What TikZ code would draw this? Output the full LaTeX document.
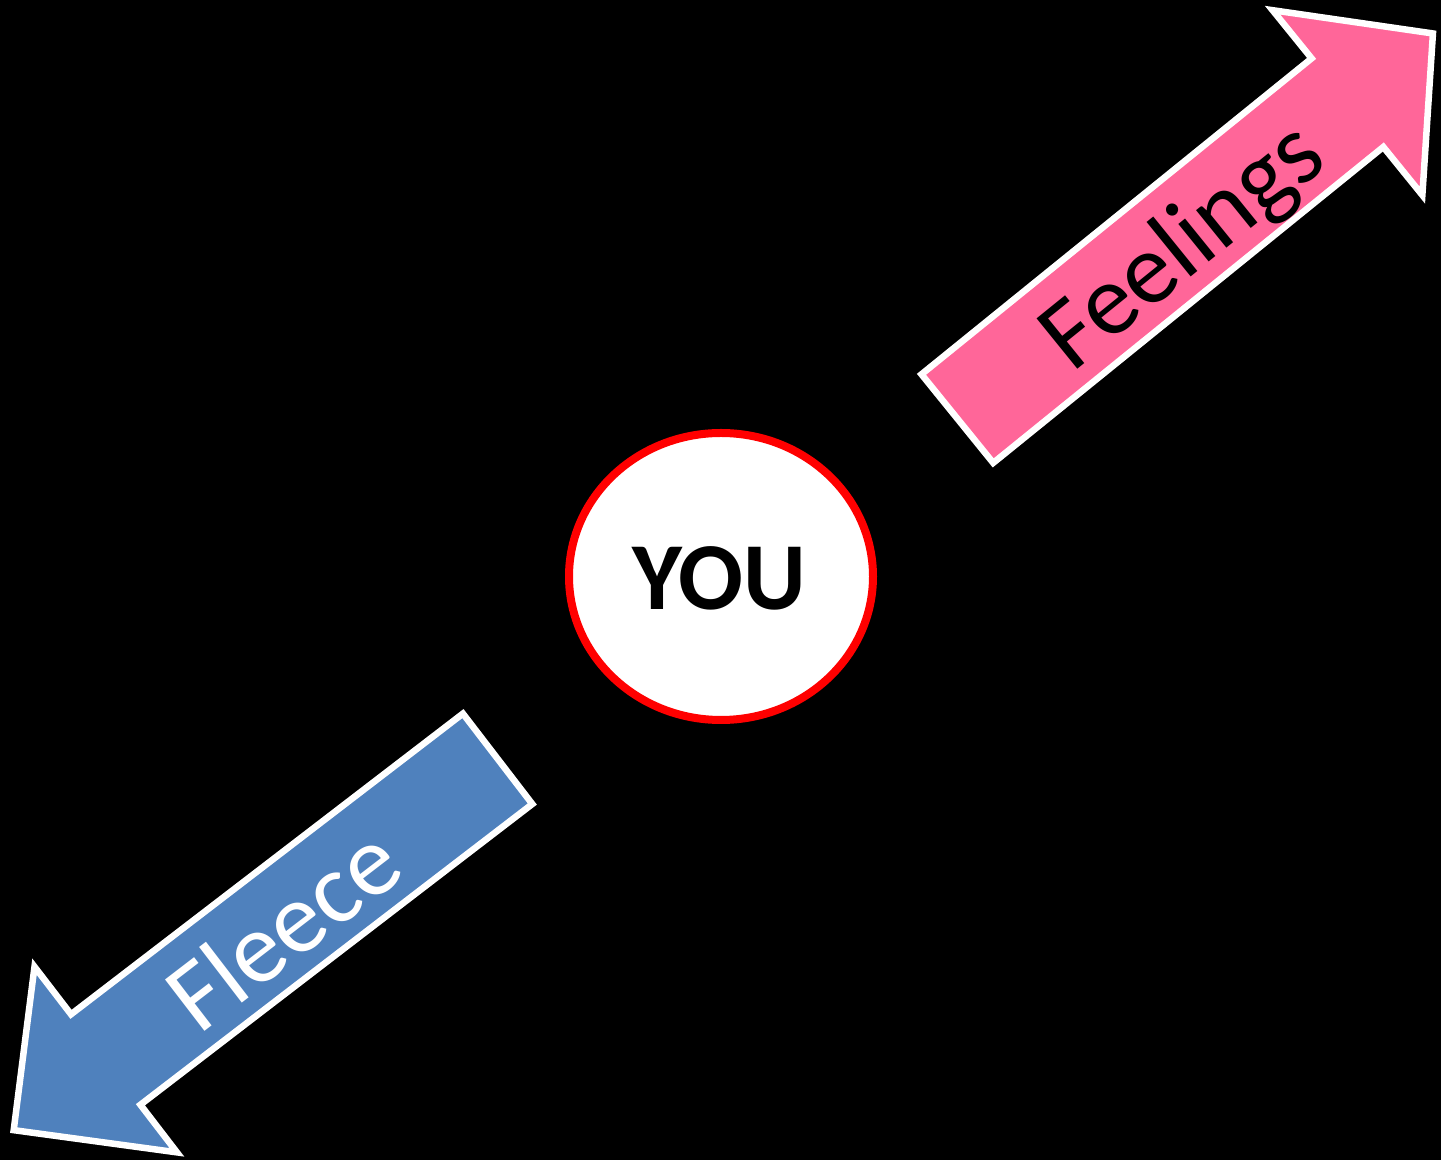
\documentclass[tikz,border=0pt]{standalone}
\usepackage{fontspec}
\setmainfont{Carlito}
\usetikzlibrary{shapes.geometric}
\definecolor{pinkfill}{RGB}{255,102,153}
\definecolor{bluefill}{RGB}{79,129,189}
\tikzset{
  arrowshape/.style={draw=white, line width=6.5pt, line join=miter},
  label/.style={font=\fontsize{101}{115}\selectfont, inner sep=0pt, anchor=base, transform shape},
}
\begin{document}
\begin{tikzpicture}[x=1pt,y=1pt]
\fill[black] (0,0) rectangle (1441,1160);
\useasboundingbox (0,0) rectangle (1441,1160);
% pink arrow
\begin{scope}[shift={(955,739.5)}, rotate=39]
  \draw[arrowshape, fill=pinkfill] (3,-57) -- (505,-57) -- (505,-119) -- (615,0) -- (505,119) -- (505,57) -- (3,57) -- cycle;
  \node[label, text=black] (feel) at (287,-37) {Feelings};
\end{scope}
% blue arrow
\begin{scope}[shift={(500,403)}, rotate=217.5]
  \draw[arrowshape, fill=bluefill] (3,-57) -- (497,-57) -- (497,-117) -- (613,0) -- (497,117) -- (497,57) -- (3,57) -- cycle;
  \node[label, text=white, rotate=180] (fleece) at (276,38) {Fleece};
\end{scope}
% circle
\node[ellipse, draw=red, line width=8pt, fill=white, minimum width=304pt, minimum height=287pt, inner sep=0pt] (you) at (721,583.5) {};
\node[font=\fontsize{96}{110}\selectfont\bfseries, inner sep=0pt] (youtxt) at (719.5,581.5) {YOU};
\end{tikzpicture}
\end{document}
